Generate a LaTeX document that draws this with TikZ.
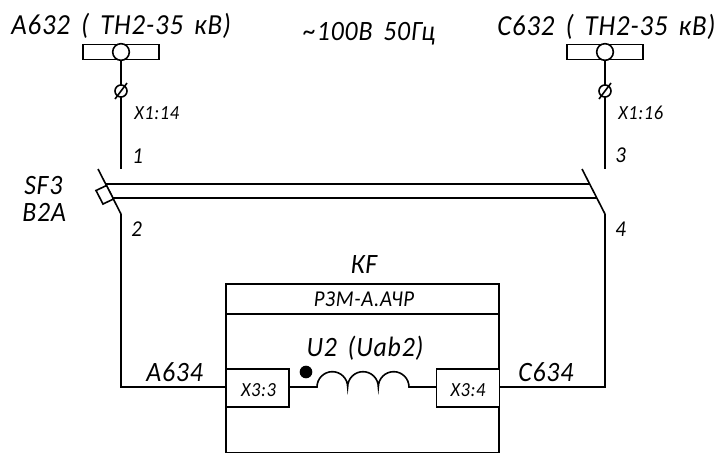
\documentclass[tikz,border=0pt]{standalone}
\usepackage{fontspec}
\setmainfont{Carlito}[ItalicFont={Carlito Italic}]
\newfontfamily\lbl{Carlito Italic}[FakeStretch=0.92,LetterSpace=3,WordSpace=1.6]
\tikzset{
  wire/.style={line width=1.5pt,black},
  thin wire/.style={line width=1.2pt,black},
  toplab/.style={font=\lbl\fontsize{21.8pt}{21.8pt}\selectfont,inner sep=0pt,text=black},
  lab/.style={font=\lbl\fontsize{21pt}{21pt}\selectfont,inner sep=0pt,text=black},
  midlab/.style={font=\lbl\fontsize{17pt}{17pt}\selectfont,inner sep=0pt,text=black},
  smalllab/.style={font=\lbl\fontsize{15pt}{15pt}\selectfont,inner sep=0pt,text=black},
  busbox/.style={draw,thin wire,fill=white,minimum width=57pt,minimum height=11.5pt,inner sep=0pt},
  tap/.style={circle,draw,thin wire,fill=white,minimum size=12.5pt,inner sep=0pt},
  clamp/.style={circle,draw,thin wire,fill=white,minimum size=9pt,inner sep=0pt},
  termbox/.style={draw,thin wire,fill=white,minimum width=47pt,minimum height=28.5pt,inner sep=0pt},
}
\begin{document}
\begin{tikzpicture}[x=0.75pt,y=-0.75pt]
\useasboundingbox (0,0) rectangle (716,454);
% bus bars
\node[busbox] (busA) at (121,52) {};
\node[busbox] (busC) at (605,52) {};
\node[tap] (tapA) at (121,52) {};
\node[tap] (tapC) at (605,52) {};
% coordinates
\coordinate (a1) at (121,169);
\coordinate (a2) at (121,214);
\coordinate (a0) at (98,169);
\coordinate (c1) at (605,169);
\coordinate (c2) at (605,214);
\coordinate (c0) at (582,169);
\coordinate (aCorner) at (121,387);
\coordinate (cCorner) at (605,387);
\coordinate (l1a) at (106,184);
\coordinate (l1c) at (589.5,184);
\coordinate (l2a) at (113,198);
\coordinate (l2c) at (597,198);
% upper wires
\draw[wire] (tapA) -- (a1);
\draw[wire] (tapC) -- (c1);
\node[clamp] (clA) at (121,91) {};
\node[clamp] (clC) at (605,91) {};
\coordinate (sA1) at (115,99);
\coordinate (sA2) at (127,83);
\coordinate (sC1) at (599,99);
\coordinate (sC2) at (611,83);
\draw[thin wire] (sA1) -- (sA2);
\draw[thin wire] (sC1) -- (sC2);
% switches
\draw[thin wire] (a0) -- (a2);
\draw[thin wire] (c0) -- (c2);
\draw[thin wire] (l1a) -- (l1c);
\draw[thin wire] (l2a) -- (l2c);
\coordinate (h1) at (96,190.5);
\coordinate (h2) at (106.5,185.5);
\coordinate (h3) at (113.5,199);
\coordinate (h4) at (103,204);
\draw[thin wire,fill=white] (h1) -- (h2) -- (h3) -- (h4) -- cycle;
% relay box
\coordinate (bNW) at (226,284);
\coordinate (bSE) at (499,452.5);
\draw[thin wire] (bNW) rectangle (bSE);
\coordinate (dL) at (226,314);
\coordinate (dR) at (499,314);
\draw[thin wire] (dL) -- (dR);
\node[termbox] (t3) at (257.5,388) {};
\node[termbox] (t4) at (468,388) {};
% lower wires
\draw[wire] (a2) -- (aCorner) -- (t3.west |- aCorner);
\draw[wire] (c2) -- (cCorner) -- (t4.east |- cCorner);
% coil
\coordinate (coilL) at (317,387);
\coordinate (coilR) at (409,387);
\draw[thin wire] (t3.east |- coilL) -- (coilL)
  arc[start angle=180,end angle=360,radius=15.33]
  arc[start angle=180,end angle=360,radius=15.33]
  arc[start angle=180,end angle=360,radius=15.33]
  -- (t4.west |- coilR);
\node[circle,fill=black,minimum size=9.5pt,inner sep=0pt] (dot) at (306,372) {};
% labels
\node[toplab,anchor=west] (tA) at (11,26) {А632 ( ТН2-35 кВ)};
\node[toplab,anchor=west] (tC) at (497,27) {С632 ( ТН2-35 кВ)};
\node[lab,anchor=west] (tF) at (303,34) {\textasciitilde100В 50Гц};
\node[smalllab,anchor=west] (x14) at (134,113) {Х1:14};
\node[smalllab,anchor=west] (x16) at (618,113) {Х1:16};
\node[midlab,anchor=west] (n1) at (132,156) {1};
\node[midlab,anchor=west] (n3) at (615,155) {3};
\node[midlab,anchor=west] (n2) at (131,229) {2};
\node[midlab,anchor=west] (n4) at (615,229) {4};
\node[lab,anchor=west] (sf) at (24,186) {SF3};
\node[lab,anchor=west] (b2a) at (22,212) {В2А};
\node[lab] (kf) at (364,265) {КF};
\node[midlab] (rzm) at (364,299) {РЗМ-А.АЧР};
\node[lab] (u2) at (365,348) {U2 (Uab2)};
\node[smalllab] (x33) at (258.5,390) {Х3:3};
\node[smalllab] (x34) at (468,390) {Х3:4};
\node[lab,anchor=west] (a634) at (146,372) {А634};
\node[lab,anchor=west] (c634) at (518,372) {С634};
\end{tikzpicture}
\end{document}
